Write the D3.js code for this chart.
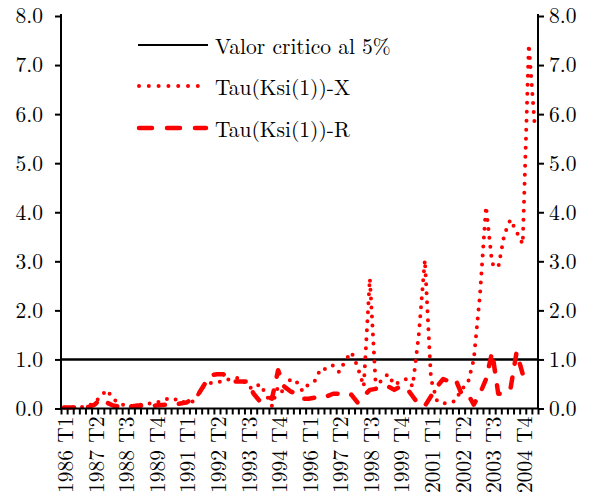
<!DOCTYPE html>
<html>
<head>
<meta charset="utf-8">
<script src="https://cdn.jsdelivr.net/npm/d3@7"></script>
<style>
  html, body { margin: 0; padding: 0; background: #fff; }
  svg { display: block; }
</style>
</head>
<body>
<svg id="chart" width="591" height="500"></svg>
<script>
// ---- data ----
const years = d3.range(1986, 2006);
const quarterNames = ["T1", "T2", "T3", "T4"];
// 78 quarters: 1986 T1 .. 2005 T2
const categories = years.flatMap(y => quarterNames.map(q => y + " " + q)).slice(0, 78);

const tickLabels = ["1986 T1","1987 T2","1988 T3","1989 T4","1991 T1","1992 T2","1993 T3","1994 T4",
                    "1996 T1","1997 T2","1998 T3","1999 T4","2001 T1","2002 T2","2003 T3","2004 T4"];

const yTicks = [0, 1, 2, 3, 4, 5, 6, 7, 8];
const criticalValue = 1.0;

const tauX = [
  0.02, 0.02, 0.03, 0.03, 0.05, 0.12, 0.25, 0.38, 0.20, 0.10,
  0.06, 0.05, 0.08, 0.07, 0.10, 0.12, 0.15, 0.20, 0.20, 0.12,
  0.14, 0.14, 0.30, 0.48, 0.52, 0.54, 0.55, 0.60, 0.62, 0.62,
  0.45, 0.40, 0.50, 0.30, 0.05, 0.45, 0.30, 0.60, 0.55, 0.35,
  0.50, 0.56, 0.82, 0.80, 0.88, 0.74, 0.98, 1.15, 0.85, 0.45,
  2.65, 0.40, 0.60, 0.70, 0.48, 0.55, 0.60, 0.45, 1.50, 3.03,
  0.60, 0.15, 0.10, 0.12, 0.15, 0.40, 0.50, 1.00, 2.30, 4.12,
  2.95, 2.87, 3.55, 3.85, 3.60, 3.35, 7.42, 5.70
];

const tauR = [
  0.02, 0.02, 0.02, 0.02, 0.03, 0.08, 0.20, 0.12, 0.06, 0.04,
  0.02, 0.04, 0.06, 0.05, 0.04, 0.06, 0.07, 0.08, 0.08, 0.10,
  0.12, 0.20, 0.30, 0.50, 0.68, 0.70, 0.70, 0.62, 0.55, 0.55,
  0.55, 0.30, 0.15, 0.25, 0.20, 0.78, 0.45, 0.35, 0.30, 0.20,
  0.20, 0.22, 0.25, 0.25, 0.30, 0.30, 0.32, 0.28, 0.12, 0.25,
  0.38, 0.40, 0.40, 0.45, 0.38, 0.45, 0.42, 0.25, 0.08, 0.05,
  0.25, 0.45, 0.60, 0.55, 0.60, 0.30, 0.30, 0.08, 0.30, 0.60,
  1.15, 0.30, 0.30, 0.40, 1.15, 0.70, 0.65, 0.60
];

const legendLabels = ["Valor critico al 5%", "Tau(Ksi(1))-X", "Tau(Ksi(1))-R"];

(function draw() {
  const svg = d3.select("#chart");
  const mLeft = 61, mRight = 538, mTop = 16, mBottom = 408.5;
  const fontSize = "21.5px";
  const fontFam = '"Latin Modern Roman", "Liberation Serif", serif';
  const setFont = sel => sel.style("font-family", fontFam).style("font-size", fontSize).style("fill", "#000");

  const x = d3.scaleBand().domain(categories).range([mLeft, mRight]).paddingInner(0).paddingOuter(0);
  const xc = d => x(d) + x.bandwidth() / 2;
  const xIdx = d3.scaleLinear().domain([0, categories.length]).range([mLeft, mRight]);
  const y = d3.scaleLinear().domain([0, 8]).range([mBottom, mTop]);

  // critical value line
  svg.append("line")
    .attr("x1", mLeft).attr("x2", mRight)
    .attr("y1", y(criticalValue)).attr("y2", y(criticalValue))
    .attr("stroke", "#000").attr("stroke-width", 2.4);

  // series
  const line = d3.line().x((d, i) => xc(categories[i])).y(d => y(d));

  svg.append("path").datum(tauR)
    .attr("d", line).attr("fill", "none")
    .attr("stroke", "#ff0000").attr("stroke-width", 4.5)
    .attr("stroke-dasharray", "10 14").attr("stroke-linecap", "round")
    .attr("stroke-linejoin", "round");

  svg.append("path").datum(tauX)
    .attr("d", line).attr("fill", "none")
    .attr("stroke", "#ff0000").attr("stroke-width", 4)
    .attr("stroke-dasharray", "0 9").attr("stroke-linecap", "round")
    .attr("stroke-linejoin", "round");

  // axes
  const yFmt = d3.format(".1f");
  const gl = svg.append("g").attr("transform", `translate(${mLeft},0)`)
    .call(d3.axisLeft(y).tickValues(yTicks).tickFormat(yFmt).tickSize(6).tickPadding(12));
  const gr = svg.append("g").attr("transform", `translate(${mRight},0)`)
    .call(d3.axisRight(y).tickValues(yTicks).tickFormat(yFmt).tickSize(6).tickPadding(5));
  const gb = svg.append("g").attr("transform", `translate(0,${mBottom})`)
    .call(d3.axisBottom(xIdx).tickValues(d3.range(0, categories.length + 1)).tickFormat("").tickSize(6).tickSizeOuter(0));

  [gl, gr, gb].forEach(g => {
    g.select(".domain").attr("stroke", "#000").attr("stroke-width", 2);
    g.selectAll(".tick line").attr("stroke", "#000").attr("stroke-width", 2);
    setFont(g.selectAll("text"));
  });
  gl.select(".domain").attr("d", `M0,${mTop - 2}V${mBottom}`);
  gr.select(".domain").attr("d", `M0,${mTop - 2}V${mBottom}`);
  gb.select(".domain").attr("d", `M${mLeft - 1},0H${mRight + 1}`);

  // x labels
  svg.append("g")
    .selectAll("text")
    .data(tickLabels)
    .join("text")
    .attr("transform", d => `translate(${xc(d)},${mBottom + 8}) rotate(-90)`)
    .attr("text-anchor", "end")
    .attr("dominant-baseline", "central")
    .text(d => d)
    .call(setFont);

  // legend
  const legend = svg.append("g");
  const legY = [45, 86, 128];
  const styles = [
    { dash: null, width: 2.2, color: "#000", cap: "butt" },
    { dash: "0 9.8", width: 4, color: "#ff0000", cap: "round" },
    { dash: "13 15", width: 4.5, color: "#ff0000", cap: "round" }
  ];
  legendLabels.forEach((lab, i) => {
    const s = styles[i];
    const ln = legend.append("line")
      .attr("x1", i === 0 ? 138 : 139).attr("x2", i === 0 ? 208 : 206)
      .attr("y1", legY[i]).attr("y2", legY[i])
      .attr("stroke", s.color).attr("stroke-width", s.width)
      .attr("stroke-linecap", s.cap);
    if (s.dash) ln.attr("stroke-dasharray", s.dash);
    legend.append("text")
      .attr("x", 215).attr("y", legY[i])
      .attr("dominant-baseline", "central")
      .text(lab)
      .call(setFont);
  });
})();
</script>
</body>
</html>
